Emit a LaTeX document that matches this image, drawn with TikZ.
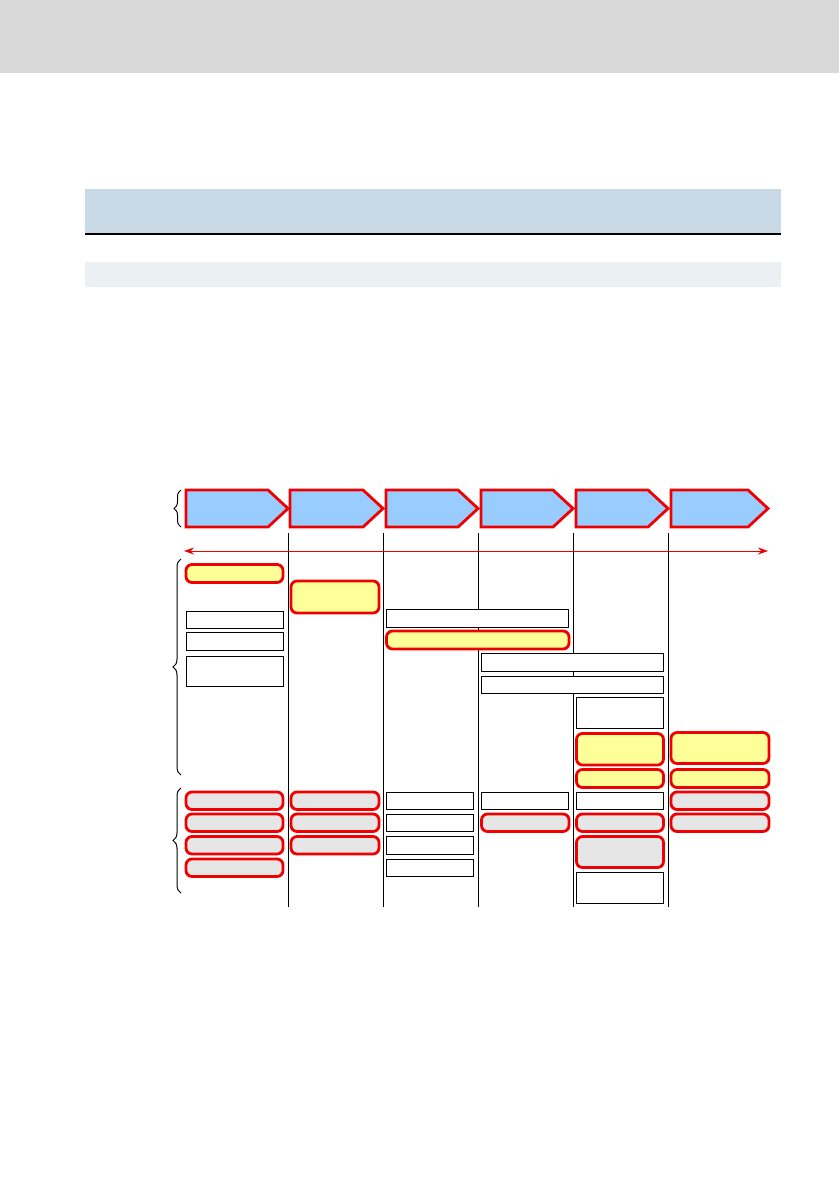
\documentclass[tikz,border=0pt]{standalone}
\usetikzlibrary{arrows.meta,decorations.pathreplacing}
\definecolor{bandgrey}{HTML}{D9D9D9}
\definecolor{headblue}{HTML}{C8D8E4}
\definecolor{lightbox}{HTML}{EBF1F3}
\definecolor{chevblue}{HTML}{99CCFF}
\definecolor{softyellow}{HTML}{FFFF99}
\definecolor{softgrey}{HTML}{E6E6E6}
\definecolor{mred}{HTML}{F00000}
\tikzset{
  basebox/.style={anchor=north west, outer sep=0pt, inner sep=0pt},
  plainbox/.style={basebox, draw=black, line width=1pt, fill=white},
  yelbox/.style={basebox, draw=mred, line width=2.8pt, fill=softyellow, rounded corners=6pt},
  greybox/.style={basebox, draw=mred, line width=2.8pt, fill=softgrey, rounded corners=6pt},
  chev/.style={draw=mred, line width=2.8pt, fill=chevblue, line join=miter},
  colline/.style={black, line width=1pt},
  bracestyle/.style={black, line width=1pt, decorate, decoration={brace, amplitude=8pt}},
}
\newcommand{\bx}[6]{\node[#1, minimum width={#5pt-#3pt}, minimum height={#6pt-#4pt}] (#2) at (#3,#4) {};}
\newcommand{\chevron}[2]{\draw[chev] (#1,490) -- (#2-20,490) -- (#2,508.5) -- (#2-20,527) -- (#1,527) -- cycle;}
\begin{document}
\begin{tikzpicture}[x=1pt,y=-1pt]
\useasboundingbox (0,0) rectangle (839,1191);
% page decorations
\fill[bandgrey] (0,0) rectangle (839,73);
\fill[headblue] (85,189) rectangle (781,233);
\draw[black, line width=2pt] (85,234) -- (781,234);
\fill[lightbox] (85,262) rectangle (781,287);
% column lines
\foreach \cx/\nm in {288/a,383/b,478/c,573/d,668/e}{
  \coordinate (top\nm) at (\cx,533);
  \coordinate (bot\nm) at (\cx,907);
  \draw[colline] (top\nm) -- (bot\nm);
}
% chevrons
\chevron{186}{288}
\chevron{290}{383}
\chevron{386}{478}
\chevron{481}{573}
\chevron{576}{668}
\chevron{671}{768}
% time arrow
\coordinate (arrL) at (184,551);
\coordinate (arrR) at (768,551);
\draw[mred, line width=1pt, {Stealth[length=10pt,width=7pt]}-{Stealth[length=10pt,width=7pt]}] (arrL) -- (arrR);
% braces
\coordinate (b1b) at (181,527); \coordinate (b1t) at (181,490);
\draw[bracestyle, decoration={amplitude=7pt}] (b1b) -- (b1t);
\coordinate (b2b) at (181,775); \coordinate (b2t) at (181,559);
\draw[bracestyle] (b2b) -- (b2t);
\coordinate (b3b) at (181,893); \coordinate (b3t) at (181,788);
\draw[bracestyle] (b3b) -- (b3t);
% upper group
\bx{yelbox}{y1}{186}{564.5}{283}{582.5}
\bx{yelbox}{y2}{291}{581}{379}{613}
\bx{plainbox}{p1}{186}{611}{283}{628.5}
\bx{plainbox}{p2}{186}{632.5}{283}{650.5}
\bx{plainbox}{p3}{186}{656}{283}{686.5}
\bx{plainbox}{p4}{386.5}{609.5}{568.5}{627}
\bx{yelbox}{y3}{386.5}{631}{569}{649}
\bx{plainbox}{p5}{481.5}{653.5}{663.5}{671}
\bx{plainbox}{p6}{481.5}{676}{663.5}{693.5}
\bx{plainbox}{p7}{576.5}{697.5}{663.5}{728.5}
\bx{yelbox}{y4}{576.5}{733.5}{663.5}{765}
\bx{yelbox}{y5}{576.5}{769.5}{663.5}{787.5}
\bx{yelbox}{y6}{671}{732.5}{769}{763.5}
\bx{yelbox}{y7}{671}{769.5}{769}{787.5}
% lower group
\bx{greybox}{g11}{186}{792}{283}{809.5}
\bx{greybox}{g12}{186}{814}{283}{831.5}
\bx{greybox}{g13}{186}{836.5}{283}{854}
\bx{greybox}{g14}{186}{859}{283}{876.5}
\bx{greybox}{g21}{291}{792}{379}{809.5}
\bx{greybox}{g22}{291}{814}{379}{831.5}
\bx{greybox}{g23}{291}{836.5}{379}{854}
\bx{plainbox}{w31}{386.5}{792}{473.5}{809.5}
\bx{plainbox}{w32}{386.5}{814.5}{473.5}{831.5}
\bx{plainbox}{w33}{386.5}{836.5}{473.5}{854}
\bx{plainbox}{w34}{386.5}{859.5}{473.5}{876.5}
\bx{plainbox}{w41}{481.5}{792}{568.5}{809.5}
\bx{greybox}{g42}{481.5}{814}{569}{831.5}
\bx{plainbox}{w51}{576.5}{792}{663.5}{809.5}
\bx{greybox}{g52}{576.5}{814}{663.5}{831.5}
\bx{greybox}{g53}{576.5}{836.5}{663.5}{867.5}
\bx{plainbox}{w54}{576.5}{872.5}{663.5}{903.5}
\bx{greybox}{g61}{671}{792}{769}{809.5}
\bx{greybox}{g62}{671}{814}{769}{831.5}
\end{tikzpicture}
\end{document}
